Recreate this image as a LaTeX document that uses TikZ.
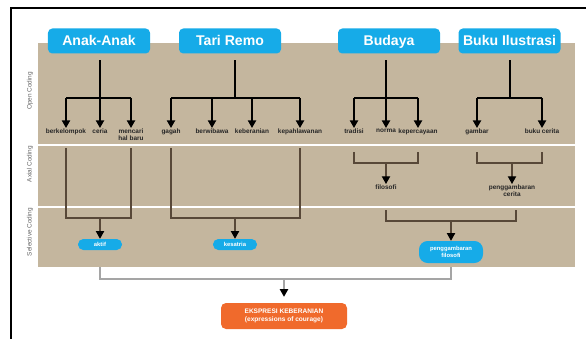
\documentclass[tikz,border=0pt]{standalone}
\usepackage{fontspec}
\setmainfont{Liberation Sans}
\usetikzlibrary{arrows.meta}
\usetikzlibrary{positioning}

\definecolor{bandtan}{RGB}{196,182,158}
\definecolor{boxblue}{RGB}{22,171,232}
\definecolor{boxorange}{RGB}{240,106,44}
\definecolor{linebrown}{RGB}{88,72,56}
\definecolor{railgrey}{RGB}{165,165,165}

\tikzset{
  head/.style={fill=boxblue, rounded corners=1.3mm, text=white, inner sep=0pt,
    minimum width=30.6mm, minimum height=7.5mm, text height=8.6pt, text depth=0.4pt,
    font=\fontsize{12}{12}\selectfont\bfseries},
  code/.style={inner sep=0.4pt, align=center, text=black!85,
    font=\fontsize{5.5}{6}\selectfont\bfseries},
  side/.style={rotate=90, text=black!60, font=\fontsize{5.5}{6}\selectfont},
  pill/.style={fill=boxblue, rounded corners=1.6mm, text=white, inner sep=0pt, align=center,
    minimum width=13.2mm, minimum height=3.3mm, font=\fontsize{5}{5.5}\selectfont\bfseries},
  openline/.style={line width=0.45mm, black},
  axline/.style={line width=0.35mm, linebrown},
  rail/.style={line width=0.45mm, railgrey},
  tip/.style={-{Triangle[width=7pt,length=6.5pt,color=black]}}
}

\begin{document}
\begin{tikzpicture}[x=0.3mm, y=-0.3mm]
\useasboundingbox (0,0) rectangle (586,339);

% frame and bands
\draw[line width=0.6mm] (11,339) -- (11,8) -- (586,8);
\fill[bandtan] (38,43) rectangle (575,267);
\draw[white, line width=0.5mm] (38,145.3) -- (575,145.3);
\draw[white, line width=0.5mm] (38,206.8) -- (575,206.8);

\node[side] (opencod) at (30,91) {Open Coding};
\node[side] (axialcod) at (30,164) {Axial Coding};
\node[side] (selcod) at (30,232) {Selective Coding};

% headers
\node[head] (anak) at (99,41) {Anak-Anak};
\node[head] (tari) at (230,41) {Tari Remo};
\node[head] (budaya) at (389,41) {Budaya};
\node[head] (buku) at (509.5,41) {Buku Ilustrasi};

% open coding
\node[code, anchor=north] (berkelompok) at (66,128) {berkelompok};
\node[code, anchor=north] (ceria) at (100,128) {ceria};
\node[code, anchor=north] (mencari) at (131,128) {mencari\\hal baru};
\node[code, anchor=north] (gagah) at (171,128) {gagah};
\node[code, anchor=north] (berwibawa) at (212,128) {berwibawa};
\node[code, anchor=north] (keberanian) at (252,128) {keberanian};
\node[code, anchor=north] (kepahlawanan) at (300,128) {kepahlawanan};
\node[code, anchor=north] (tradisi) at (354,128) {tradisi};
\node[code, anchor=north] (norma) at (386,128) {norma};
\node[code, anchor=north] (kepercayaan) at (418,128) {kepercayaan};
\node[code, anchor=north] (gambar) at (477,128) {gambar};
\node[code, anchor=north] (bukucerita) at (542,128) {buku cerita};

\coordinate (bar) at (0,98);
\coordinate (anakbar) at (ceria |- bar);
\coordinate (taribar) at (235,98);
\coordinate (budayabar) at (norma |- bar);
\coordinate (bukubar) at (510,98);

\draw[openline] ([yshift=-2mm]anakbar |- anak.south) -- (anakbar);
\draw[openline] ([yshift=-2mm]taribar |- tari.south) -- (taribar);
\draw[openline] ([yshift=-2mm]budayabar |- budaya.south) -- (budayabar);
\draw[openline] ([yshift=-2mm]bukubar |- buku.south) -- (bukubar);
\draw[openline] (berkelompok.north |- bar) -- (mencari.north |- bar);
\draw[openline] (gagah.north |- bar) -- (kepahlawanan.north |- bar);
\draw[openline] (tradisi.north |- bar) -- (kepercayaan.north |- bar);
\draw[openline] (gambar.north |- bar) -- (bukucerita.north |- bar);
\foreach \n in {berkelompok,ceria,mencari,gagah,berwibawa,keberanian,kepahlawanan,tradisi,norma,kepercayaan,gambar,bukucerita}
  \draw[openline,tip] (\n.north |- bar) -- (\n.north);

% axial coding
\node[code, anchor=north] (filosofi) at (386,184) {filosofi};
\node[code, anchor=north] (pengcerita) at (512,184) {penggambaran\\cerita};

\coordinate (axtop) at (0,148);
\coordinate (brtop) at (0,152);
\coordinate (brbot) at (0,163);
\draw[axline] (tradisi |- brtop) |- (kepercayaan |- brbot) -- (kepercayaan |- brtop);
\draw[axline] (gambar |- brtop) |- (bukucerita |- brbot) -- (bukucerita |- brtop);
\draw[axline,tip] (filosofi |- brbot) -- (filosofi.north);
\draw[axline,tip] (pengcerita |- brbot) -- (pengcerita.north);

% selective coding
\node[pill] (aktif) at (100,244.5) {aktif};
\node[pill] (kesatria) at (235,244.5) {kesatria};
\node[pill, minimum width=19.2mm, minimum height=6.6mm, rounded corners=2.6mm] (pengfilosofi) at (451,252) {penggambaran\\filosofi};

\coordinate (selbot) at (0,218);
\draw[axline] (berkelompok |- axtop) |- (mencari |- selbot) -- (mencari |- axtop);
\draw[axline] (gagah |- axtop) |- (kepahlawanan |- selbot) -- (kepahlawanan |- axtop);
\draw[axline,tip] (aktif |- selbot) -- (aktif.north);
\draw[axline,tip] (kesatria |- selbot) -- (kesatria.north);

\coordinate (seltop) at (0,210);
\coordinate (selbar) at (0,221);
\draw[axline] (filosofi |- seltop) |- (516,221) -- (516,210);
\draw[axline,tip] (pengfilosofi |- selbar) -- (pengfilosofi.north);

% result
\node[fill=boxorange, rounded corners=1.5mm, text=white, align=center, inner sep=0pt,
  minimum width=37.8mm, minimum height=7.8mm, font=\fontsize{5.6}{6.6}\selectfont\bfseries]
  (ekspresi) at (284,316) {EKSPRESI KEBERANIAN\\(expressions of courage)};

\coordinate (bandbot) at (0,267);
\coordinate (railbot) at (0,279);
\draw[rail] (aktif |- bandbot) |- (pengfilosofi |- railbot) -- (pengfilosofi |- bandbot);
\draw[rail,tip,shorten >=1.8mm] (ekspresi |- railbot) -- (ekspresi.north);

\end{tikzpicture}
\end{document}
